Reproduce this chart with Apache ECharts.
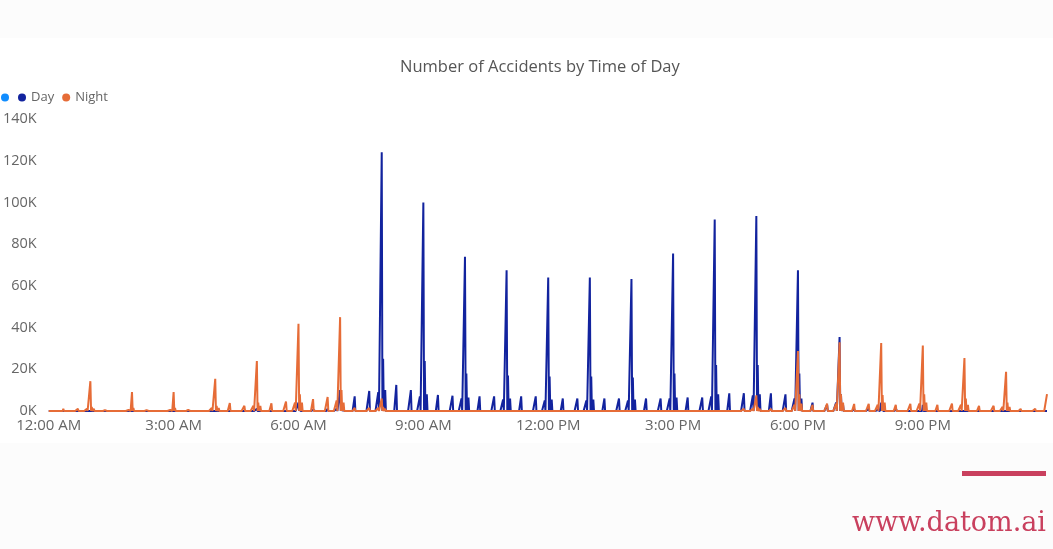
<!DOCTYPE html>
<html>
<head>
<meta charset="utf-8">
<script src="https://cdn.jsdelivr.net/npm/echarts@6/dist/echarts.min.js"></script>
<style>
  html, body { margin: 0; padding: 0; background: #fcfcfc; }
  #chart { width: 1053px; height: 549px; }
</style>
</head>
<body>
<div id="chart"></div>
<script>
// ---- data ----
// hour of day index 0..23 ; value at h:00
const dayPeak   = [0, 0, 0, 0, 0, 1000, 4000, 10000, 124000, 100000, 74000, 67500, 64000, 64000, 63300, 75500, 91800, 93500, 67500, 35500, 4000, 3000, 0, 0];
const nightPeak = [0, 14300, 9100, 9100, 15400, 24000, 41800, 45000, 6000, 0, 0, 0, 0, 0, 0, 0, 0, 7500, 28800, 33000, 32600, 31400, 25400, 18800];
// value at h:02 (shoulder right after the hour)
const dayNear   = [0, 0, 0, 0, 0, 0, 1000, 3000, 25000, 24000, 18000, 17000, 16500, 16500, 16000, 18000, 22000, 22000, 18000, 8000, 1000, 0, 0, 0];
const nightNear = [0, 2000, 1500, 1500, 2500, 4000, 8000, 10000, 2000, 0, 0, 0, 0, 0, 0, 0, 0, 2000, 8000, 8000, 7700, 8000, 6000, 4000];
// value at h:05
const dayPost   = [0, 0, 0, 0, 0, 0, 500, 1500, 10000, 8000, 6500, 6000, 5500, 5500, 5500, 6500, 8000, 8000, 6000, 3000, 500, 0, 0, 0];
const nightPost = [0, 1000, 800, 800, 1500, 2500, 4000, 4000, 1000, 0, 0, 0, 0, 0, 0, 0, 0, 1000, 3500, 4000, 4000, 4000, 3000, 2000];
// value at (h-1):55, five minutes before hour h
const dayPre    = [0, 0, 0, 0, 0, 0, 500, 1000, 9000, 7000, 6000, 5500, 5000, 5000, 5000, 6000, 7000, 7500, 6000, 4000, 500, 0, 0, 0];
const nightPre  = [0, 1000, 500, 500, 1500, 2500, 4000, 5000, 1500, 0, 0, 0, 0, 0, 0, 0, 0, 1000, 3000, 3500, 3000, 3500, 3000, 2000];
// small spikes inside each hour, at h:21 and h:42
const dayMidA   = [0, 0, 0, 0, 0, 0, 500, 7000, 12500, 7700, 7000, 7000, 6000, 6000, 6000, 6500, 8500, 8500, 4000, 1000, 500, 0, 0, 0];
const dayMidB   = [0, 0, 0, 0, 0, 0, 1000, 9600, 10000, 7300, 7000, 7000, 6000, 6000, 6000, 6500, 8500, 8000, 3000, 1000, 500, 0, 0, 0];
const nightMidA = [1000, 400, 400, 500, 3800, 3700, 5700, 1500, 0, 0, 0, 0, 0, 0, 0, 0, 0, 1000, 3000, 3400, 3000, 3000, 2500, 1000];
const nightMidB = [1000, 400, 400, 500, 2500, 4500, 6700, 1500, 0, 0, 0, 0, 0, 0, 0, 0, 1000, 1500, 3500, 3400, 3400, 3500, 2500, 1000];
// extra single points [minute of day, value]
const nightExtra = [[1439, 8100]];
const dayExtra = [];

const seriesNames = [' ', 'Day', 'Night'];
const xTickLabels = ['12:00 AM', '3:00 AM', '6:00 AM', '9:00 AM', '12:00 PM', '3:00 PM', '6:00 PM', '9:00 PM'];
const yTickLabels = ['0K', '20K', '40K', '60K', '80K', '100K', '120K', '140K'];

// ---- build minute-of-day table for the library ----
function buildTable(peak, near, post, pre, midA, midB, extra) {
  const arr = new Array(1440).fill(0);
  const put = (m, v) => { if (m >= 0 && m < 1440 && v) arr[m] = v; };
  for (let h = 0; h < 24; h++) {
    put(h * 60, peak[h]);
    put(h * 60 + 2, near[h]);
    put(h * 60 + 5, post[h]);
    put(h * 60 - 5, pre[h]);
    put(h * 60 + 21, midA[h]);
    put(h * 60 + 42, midB[h]);
  }
  extra.forEach(([m, v]) => put(m, v));
  return arr.map((v, i) => [i, v]);
}
const dayData = buildTable(dayPeak, dayNear, dayPost, dayPre, dayMidA, dayMidB, dayExtra);
const nightData = buildTable(nightPeak, nightNear, nightPost, nightPre, nightMidA, nightMidB, nightExtra);

const FONT = '"Open Sans", "Noto Sans", sans-serif';
const chart = echarts.init(document.getElementById('chart'), null, { renderer: 'canvas' });
chart.setOption({
  animation: false,
  backgroundColor: 'transparent',
  graphic: [
    { type: 'rect', z: -10, silent: true, shape: { x: 0, y: 38, width: 1053, height: 405 }, style: { fill: '#ffffff' } },
    { type: 'rect', z: 10, silent: true, shape: { x: 962, y: 471, width: 84, height: 5 }, style: { fill: '#C9405E' } },
    { type: 'text', z: 10, silent: true, right: 7, top: 510,
      style: { text: 'www.datom.ai', fill: '#C9405E', font: '27px "DejaVu Serif", serif' } }
  ],
  title: {
    text: 'Number of Accidents by Time of Day',
    left: 400, top: 59, padding: 0,
    textStyle: { color: '#555', fontSize: 16.5, fontWeight: 'normal', fontFamily: FONT }
  },
  legend: [
    { data: [seriesNames[0]], left: 1, top: 91, icon: 'circle', itemWidth: 8, itemHeight: 8, padding: 0,
      textStyle: { color: '#666', fontSize: 13, fontFamily: FONT } },
    { data: [seriesNames[1], seriesNames[2]], left: 18, top: 91, icon: 'circle', itemWidth: 8, itemHeight: 8, itemGap: 8, padding: 0,
      textStyle: { color: '#666', fontSize: 13, fontFamily: FONT } }
  ],
  grid: { left: 47, right: 6, top: 119, bottom: 138, containLabel: false },
  xAxis: {
    type: 'value', min: 0, max: 1439, interval: 180,
    axisLine: { show: false }, axisTick: { show: false }, splitLine: { show: false },
    axisLabel: {
      color: '#666', fontSize: 15, fontFamily: FONT, margin: 7, showMaxLabel: false,
      formatter: v => xTickLabels[Math.round(v / 180)] || ''
    }
  },
  yAxis: {
    type: 'value', min: 0, max: 140000, interval: 20000,
    axisLine: { show: false }, axisTick: { show: false }, splitLine: { show: false },
    axisLabel: {
      color: '#666', fontSize: 14.5, fontFamily: FONT, margin: 12,
      formatter: v => yTickLabels[Math.round(v / 20000)]
    }
  },
  series: [
    { name: seriesNames[0], type: 'line', data: [], color: '#118DFF', showSymbol: false },
    { name: seriesNames[1], type: 'line', data: dayData, color: '#12239E', showSymbol: false,
      lineStyle: { width: 2 }, z: 2 },
    { name: seriesNames[2], type: 'line', data: nightData, color: '#E66C37', showSymbol: false,
      lineStyle: { width: 2 }, z: 3 }
  ]
});
</script>
</body>
</html>
